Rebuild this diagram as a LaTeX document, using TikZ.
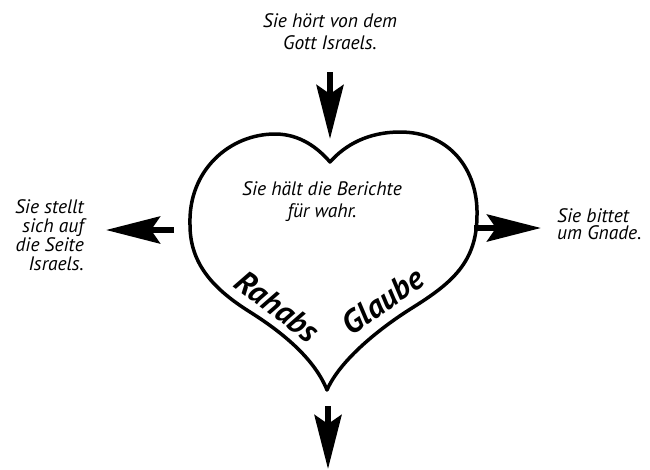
\documentclass[tikz,border=0pt]{standalone}
\usepackage{fontspec}
\setmainfont{PT Sans}
\usepackage{tikz}
\usetikzlibrary{arrows.meta,positioning,calc}

\begin{document}
\begin{tikzpicture}[x=1pt,y=-1pt,
    txt/.style={font=\itshape\fontsize{19.5}{22}\selectfont,inner sep=0pt,align=center},
    big/.style={font=\bfseries\itshape\fontsize{32}{33}\selectfont,inner sep=0pt,anchor=base},
    fatarrow/.style={line width=6pt,-{Stealth[length=54pt,width=27pt,inset=9pt]}}]
  \useasboundingbox (0,0) rectangle (650,469);
  % heart
  \draw[line width=3.5pt,line join=round] (330,162)
    .. controls (345,145) and (368,132) .. (400,132)
    .. controls (450,132) and (478,170) .. (477,215)
    .. controls (477,262) and (452,283) .. (412,308)
    .. controls (380,328) and (340,360) .. (327,390)
    .. controls (315,360) and (285,334) .. (250,312)
    .. controls (215,290) and (190,265) .. (190,225)
    .. controls (188,170) and (230,134) .. (275,134)
    .. controls (300,134) and (318,148) .. cycle;
  \node[txt] (hears) at (330,32) {Sie hört von dem\\Gott Israels.};
  \node[txt] (believes) at (322,202) {Sie hält die Berichte\\für wahr.};
  \node[txt,align=right,anchor=east,font=\itshape\fontsize{19.5}{19}\selectfont] (sides) at (84,235) {Sie stellt\\sich auf\\die Seite\\Israels.};
  \node[txt,align=left,anchor=west,font=\itshape\fontsize{19.5}{17}\selectfont] (begs) at (557,224) {Sie bittet\\um Gnade.};
  \node[big,rotate=-37] (rahab) at (271,315) {Rahabs};
  \node[big,rotate=35] (faith) at (389,310) {Glaube};
  \coordinate (topA) at (330,72);
  \coordinate (topB) at (330,139);
  \coordinate (leftA) at (174,230);
  \coordinate (leftB) at (106,230);
  \coordinate (rightA) at (474,228);
  \coordinate (rightB) at (541,228);
  \coordinate (botA) at (328,406);
  \coordinate (botB) at (328,469);
  \draw[fatarrow] (topA) -- (topB);
  \draw[fatarrow] (leftA) -- (leftB);
  \draw[fatarrow] (rightA) -- (rightB);
  \draw[fatarrow] (botA) -- (botB);
\end{tikzpicture}
\end{document}
